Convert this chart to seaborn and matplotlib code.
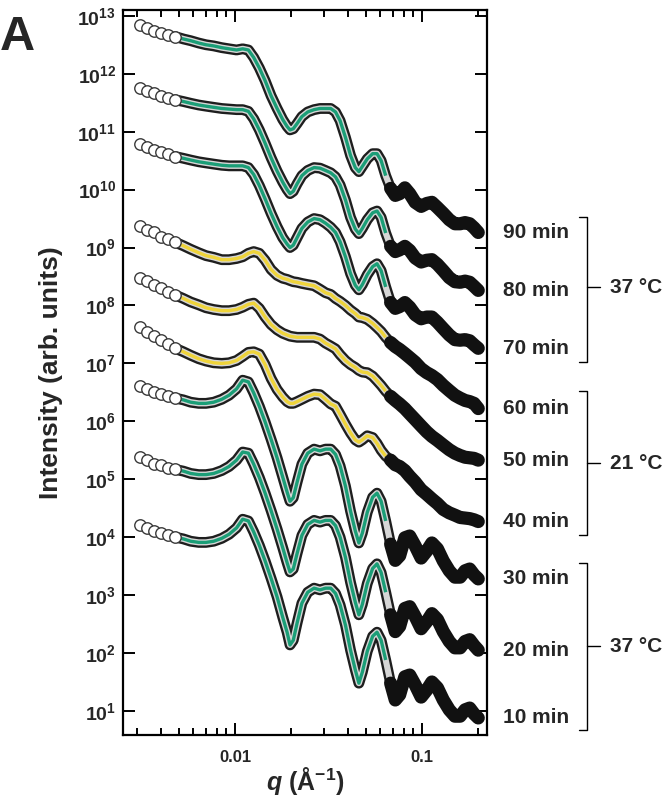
import numpy as np
import pandas as pd
import matplotlib
matplotlib.use("Agg")
import matplotlib.pyplot as plt
import matplotlib.ticker as mticker
import matplotlib.transforms as mtransforms
import seaborn as sns

# ============================================
# DATA (log10 of intensity)
# ============================================

q_values = [
    0.0031, 0.0034, 0.0037, 0.0040, 0.0044, 0.0048, 0.0053, 0.0058, 0.0064, 0.0070,
    0.0077, 0.0085, 0.0093, 0.0102, 0.0110, 0.0118, 0.0126, 0.0135, 0.0145, 0.0156,
    0.0168, 0.0180, 0.0190, 0.0197, 0.0205, 0.0215, 0.0228, 0.0245, 0.0265, 0.0285,
    0.0305, 0.0325, 0.0345, 0.0365, 0.0390, 0.0415, 0.0440, 0.0460, 0.0480, 0.0510,
    0.0545, 0.0575, 0.0605, 0.0640, 0.0680, 0.0720, 0.0760, 0.0810, 0.0860, 0.0920,
    0.0990, 0.1060, 0.1130, 0.1210, 0.1300, 0.1400, 0.1500, 0.1600, 0.1700, 0.1800,
    0.1900, 0.2000,
]

log_I_10min = [
    4.21, 4.16, 4.10, 4.07, 4.03, 4.00, 3.97, 3.93, 3.91, 3.91,
    3.93, 3.98, 4.05, 4.16, 4.31, 4.28, 4.09, 3.86, 3.59, 3.29,
    2.97, 2.62, 2.36, 2.14, 2.22, 2.52, 2.86, 3.05, 3.12, 3.09,
    3.12, 3.12, 3.03, 2.83, 2.48, 2.05, 1.71, 1.48, 1.67, 2.03,
    2.29, 2.36, 2.22, 1.88, 1.48, 1.19, 1.28, 1.59, 1.62, 1.45,
    1.24, 1.36, 1.50, 1.40, 1.19, 1.02, 0.91, 0.91, 1.02, 1.05,
    0.95, 0.88,
]
log_I_20min = [
    5.38, 5.33, 5.27, 5.24, 5.20, 5.17, 5.14, 5.10, 5.08, 5.08,
    5.10, 5.15, 5.22, 5.33, 5.47, 5.45, 5.26, 5.03, 4.76, 4.46,
    4.14, 3.82, 3.56, 3.40, 3.45, 3.72, 4.03, 4.22, 4.29, 4.26,
    4.29, 4.29, 4.20, 4.00, 3.65, 3.22, 2.88, 2.66, 2.84, 3.20,
    3.46, 3.54, 3.39, 3.05, 2.66, 2.37, 2.46, 2.77, 2.80, 2.63,
    2.42, 2.54, 2.68, 2.58, 2.37, 2.20, 2.09, 2.09, 2.20, 2.23,
    2.13, 2.05,
]
log_I_30min = [
    6.61, 6.56, 6.50, 6.47, 6.43, 6.40, 6.37, 6.33, 6.31, 6.31,
    6.33, 6.38, 6.45, 6.56, 6.71, 6.68, 6.49, 6.26, 5.99, 5.69,
    5.37, 5.04, 4.78, 4.62, 4.68, 4.95, 5.26, 5.45, 5.52, 5.49,
    5.52, 5.52, 5.43, 5.23, 4.88, 4.45, 4.11, 3.90, 4.07, 4.43,
    4.69, 4.76, 4.62, 4.28, 3.88, 3.60, 3.68, 3.99, 4.02, 3.85,
    3.64, 3.76, 3.90, 3.80, 3.59, 3.42, 3.31, 3.31, 3.42, 3.45,
    3.35, 3.28,
]
log_I_40min = [
    7.62, 7.55, 7.48, 7.40, 7.33, 7.26, 7.20, 7.14, 7.08, 7.04,
    7.01, 7.00, 7.01, 7.05, 7.12, 7.19, 7.20, 7.16, 6.98, 6.74,
    6.55, 6.42, 6.34, 6.31, 6.31, 6.34, 6.38, 6.43, 6.47, 6.46,
    6.38, 6.30, 6.26, 6.12, 5.95, 5.80, 5.68, 5.64, 5.68, 5.75,
    5.72, 5.62, 5.50, 5.40, 5.33, 5.25, 5.22, 5.15, 5.05, 4.95,
    4.82, 4.74, 4.66, 4.58, 4.48, 4.42, 4.38, 4.34, 4.33, 4.32,
    4.30, 4.27,
]
log_I_50min = [
    8.48, 8.42, 8.36, 8.30, 8.24, 8.18, 8.12, 8.06, 8.01, 7.96,
    7.93, 7.91, 7.91, 7.93, 7.97, 8.02, 8.04, 7.95, 7.80, 7.67,
    7.58, 7.52, 7.49, 7.47, 7.46, 7.45, 7.45, 7.45, 7.45, 7.42,
    7.35, 7.30, 7.25, 7.15, 7.05, 6.98, 6.93, 6.88, 6.85, 6.84,
    6.78, 6.70, 6.62, 6.52, 6.43, 6.36, 6.30, 6.22, 6.13, 6.03,
    5.92, 5.82, 5.74, 5.67, 5.59, 5.51, 5.45, 5.41, 5.38, 5.37,
    5.36, 5.33,
]
log_I_60min = [
    9.38, 9.31, 9.26, 9.19, 9.14, 9.09, 9.03, 8.97, 8.91, 8.86,
    8.83, 8.79, 8.79, 8.81, 8.84, 8.90, 8.93, 8.90, 8.78, 8.62,
    8.52, 8.47, 8.45, 8.43, 8.41, 8.40, 8.38, 8.36, 8.34, 8.28,
    8.22, 8.19, 8.12, 8.07, 8.00, 7.92, 7.86, 7.80, 7.79, 7.76,
    7.69, 7.62, 7.55, 7.45, 7.36, 7.29, 7.24, 7.17, 7.10, 7.02,
    6.91, 6.84, 6.79, 6.72, 6.62, 6.53, 6.45, 6.40, 6.36, 6.34,
    6.31, 6.22,
]
log_I_70min = [
    10.79, 10.74, 10.69, 10.65, 10.61, 10.57, 10.54, 10.51, 10.48, 10.46,
    10.44, 10.42, 10.41, 10.41, 10.41, 10.38, 10.26, 10.07, 9.84, 9.59,
    9.36, 9.17, 9.06, 9.00, 9.04, 9.17, 9.33, 9.44, 9.50, 9.48,
    9.42, 9.35, 9.26, 9.10, 8.84, 8.55, 8.35, 8.27, 8.36, 8.53,
    8.67, 8.72, 8.60, 8.32, 8.05, 7.95, 7.98, 8.05, 7.97, 7.84,
    7.77, 7.80, 7.80, 7.71, 7.60, 7.49, 7.41, 7.40, 7.41, 7.39,
    7.32, 7.26,
]
log_I_80min = [
    11.76, 11.71, 11.66, 11.62, 11.58, 11.55, 11.52, 11.49, 11.46, 11.44,
    11.42, 11.40, 11.39, 11.38, 11.38, 11.35, 11.22, 11.03, 10.80, 10.55,
    10.32, 10.13, 10.00, 9.93, 9.97, 10.10, 10.24, 10.33, 10.38, 10.37,
    10.33, 10.29, 10.22, 10.08, 9.82, 9.52, 9.32, 9.24, 9.33, 9.48,
    9.60, 9.63, 9.52, 9.25, 9.02, 8.93, 8.96, 9.02, 8.95, 8.82,
    8.75, 8.78, 8.79, 8.71, 8.60, 8.48, 8.41, 8.40, 8.42, 8.40,
    8.33, 8.26,
]
log_I_90min = [
    12.84, 12.79, 12.74, 12.71, 12.67, 12.64, 12.60, 12.57, 12.53, 12.50,
    12.48, 12.45, 12.43, 12.41, 12.43, 12.41, 12.28, 12.10, 11.88, 11.62,
    11.40, 11.21, 11.09, 11.03, 11.05, 11.14, 11.26, 11.34, 11.38, 11.40,
    11.40, 11.40, 11.34, 11.19, 10.90, 10.59, 10.38, 10.31, 10.40, 10.53,
    10.62, 10.62, 10.50, 10.24, 10.02, 9.90, 9.93, 10.03, 9.93, 9.78,
    9.71, 9.76, 9.78, 9.69, 9.59, 9.48, 9.41, 9.41, 9.43, 9.41,
    9.34, 9.26,
]

time_labels = ["10 min", "20 min", "30 min", "40 min", "50 min",
               "60 min", "70 min", "80 min", "90 min"]
curves = [log_I_10min, log_I_20min, log_I_30min, log_I_40min, log_I_50min,
          log_I_60min, log_I_70min, log_I_80min, log_I_90min]
temperature = ["37", "37", "37", "21", "21", "21", "37", "37", "37"]

bracket_labels = ["37 \u00b0C", "21 \u00b0C", "37 \u00b0C"]
bracket_top = [9.53, 6.53, 3.55]
bracket_bottom = [7.03, 4.03, 0.67]
bracket_mid = [8.31, 5.28, 2.12]

fit_colors = {"37": "#1b9e77", "21": "#efd43a"}

# ============================================
# STYLE
# ============================================
sns.set_style("ticks")
plt.rcParams["font.family"] = ["Liberation Sans", "DejaVu Sans"]
plt.rcParams["font.weight"] = "bold"
plt.rcParams["mathtext.fontset"] = "custom"
plt.rcParams["mathtext.rm"] = "Liberation Sans:bold"
plt.rcParams["mathtext.bf"] = "Liberation Sans:bold"
plt.rcParams["mathtext.it"] = "Liberation Sans:italic:bold"

fig = plt.figure(figsize=(6.66, 8.0), dpi=100)
ax = fig.add_axes([0.1847, 0.0813, 0.5465, 0.9062])
ax.set_xscale("log")
ax.set_yscale("log")

# ============================================
# CURVES: data circles + model fit
# ============================================
for label, logs, temp in zip(time_labels, curves, temperature):
    d = pd.DataFrame({"q": q_values, "I": 10 ** np.array(logs)})

    # overlapping open circles look like a dark band
    band = d[d.q >= 0.0047]
    sns.lineplot(data=band, x="q", y="I", ax=ax, color="#1e1e1e", lw=7.8,
                 solid_capstyle="round", solid_joinstyle="round")
    hollow = band[band.q <= 0.072]
    sns.lineplot(data=hollow, x="q", y="I", ax=ax, color="#d6d6d6", lw=4.4,
                 solid_capstyle="butt", solid_joinstyle="round")
    tail = d[d.q >= 0.066]
    sns.lineplot(data=tail, x="q", y="I", ax=ax, color="#111111", lw=9.5,
                 solid_capstyle="round", solid_joinstyle="round")

    # model fit
    fit = d[(d.q >= 0.0047) & (d.q <= 0.066)]
    sns.lineplot(data=fit, x="q", y="I", ax=ax, color=fit_colors[temp], lw=2.4,
                 solid_capstyle="butt", solid_joinstyle="round")

    # first, well separated data points
    low = d[d.q <= 0.0049]
    sns.scatterplot(data=low, x="q", y="I", ax=ax, s=68, color="white",
                    edgecolor="#3a3a3a", linewidth=1.0, zorder=3)

# ============================================
# AXES, TICKS, LABELS
# ============================================
ax.set_xlim(0.00252, 0.2227)
ax.set_ylim(10 ** 0.586, 10 ** 13.1)

ax.xaxis.set_major_locator(mticker.FixedLocator([0.01, 0.1]))
ax.xaxis.set_major_formatter(mticker.FixedFormatter(["0.01", "0.1"]))
ax.xaxis.set_minor_locator(mticker.LogLocator(base=10, subs=np.arange(2, 10), numticks=20))
ax.xaxis.set_minor_formatter(mticker.NullFormatter())
ax.yaxis.set_major_locator(mticker.FixedLocator([10.0 ** k for k in range(1, 14)]))
ax.yaxis.set_minor_locator(mticker.NullLocator())
ax.yaxis.set_major_formatter(
    mticker.FuncFormatter(lambda v, p: r"$\mathbf{10^{%d}}$" % round(np.log10(v))))

ax.tick_params(which="both", direction="in", top=True, right=True, width=1.4, color="black")
ax.tick_params(which="major", length=8.5)
ax.tick_params(which="minor", length=5)
ax.tick_params(axis="x", labelsize=12, pad=11)
ax.tick_params(axis="y", labelsize=14, pad=5)
for s in ax.spines.values():
    s.set_linewidth(1.6)
    s.set_color("black")

ax.set_ylabel("Intensity (arb. units)", fontsize=19, fontweight="bold", labelpad=10)
ax.set_xlabel("$\\mathit{q}$ (\u00c5$^{\\mathbf{-1}}$)", fontsize=18, fontweight="bold", labelpad=0)

# time labels at the end of each curve
trans = mtransforms.blended_transform_factory(ax.transAxes, ax.transData)
for label, logs in zip(time_labels, curves):
    ax.annotate(label, xy=(1.0, 10 ** logs[-1]), xycoords=trans,
                xytext=(11.5, 0), textcoords="offset points",
                fontsize=15, fontweight="bold", va="center", ha="left",
                annotation_clip=False)

# temperature brackets
for lab, top, bot, mid in zip(bracket_labels, bracket_top, bracket_bottom, bracket_mid):
    ax.plot([1.253, 1.275, 1.275, 1.253], [10 ** top, 10 ** top, 10 ** bot, 10 ** bot],
            transform=trans, color="black", lw=1.0, clip_on=False)
    ax.plot([1.275, 1.31], [10 ** mid, 10 ** mid], transform=trans,
            color="black", lw=1.0, clip_on=False)
    ax.text(1.338, 10 ** mid, lab, transform=trans, fontsize=15,
            fontweight="bold", va="center", ha="left")

fig.text(0.0, 1 - 50 / 800, "A", fontsize=35, fontweight="bold", va="baseline", ha="left")

fig.savefig("out.png", dpi=100)
